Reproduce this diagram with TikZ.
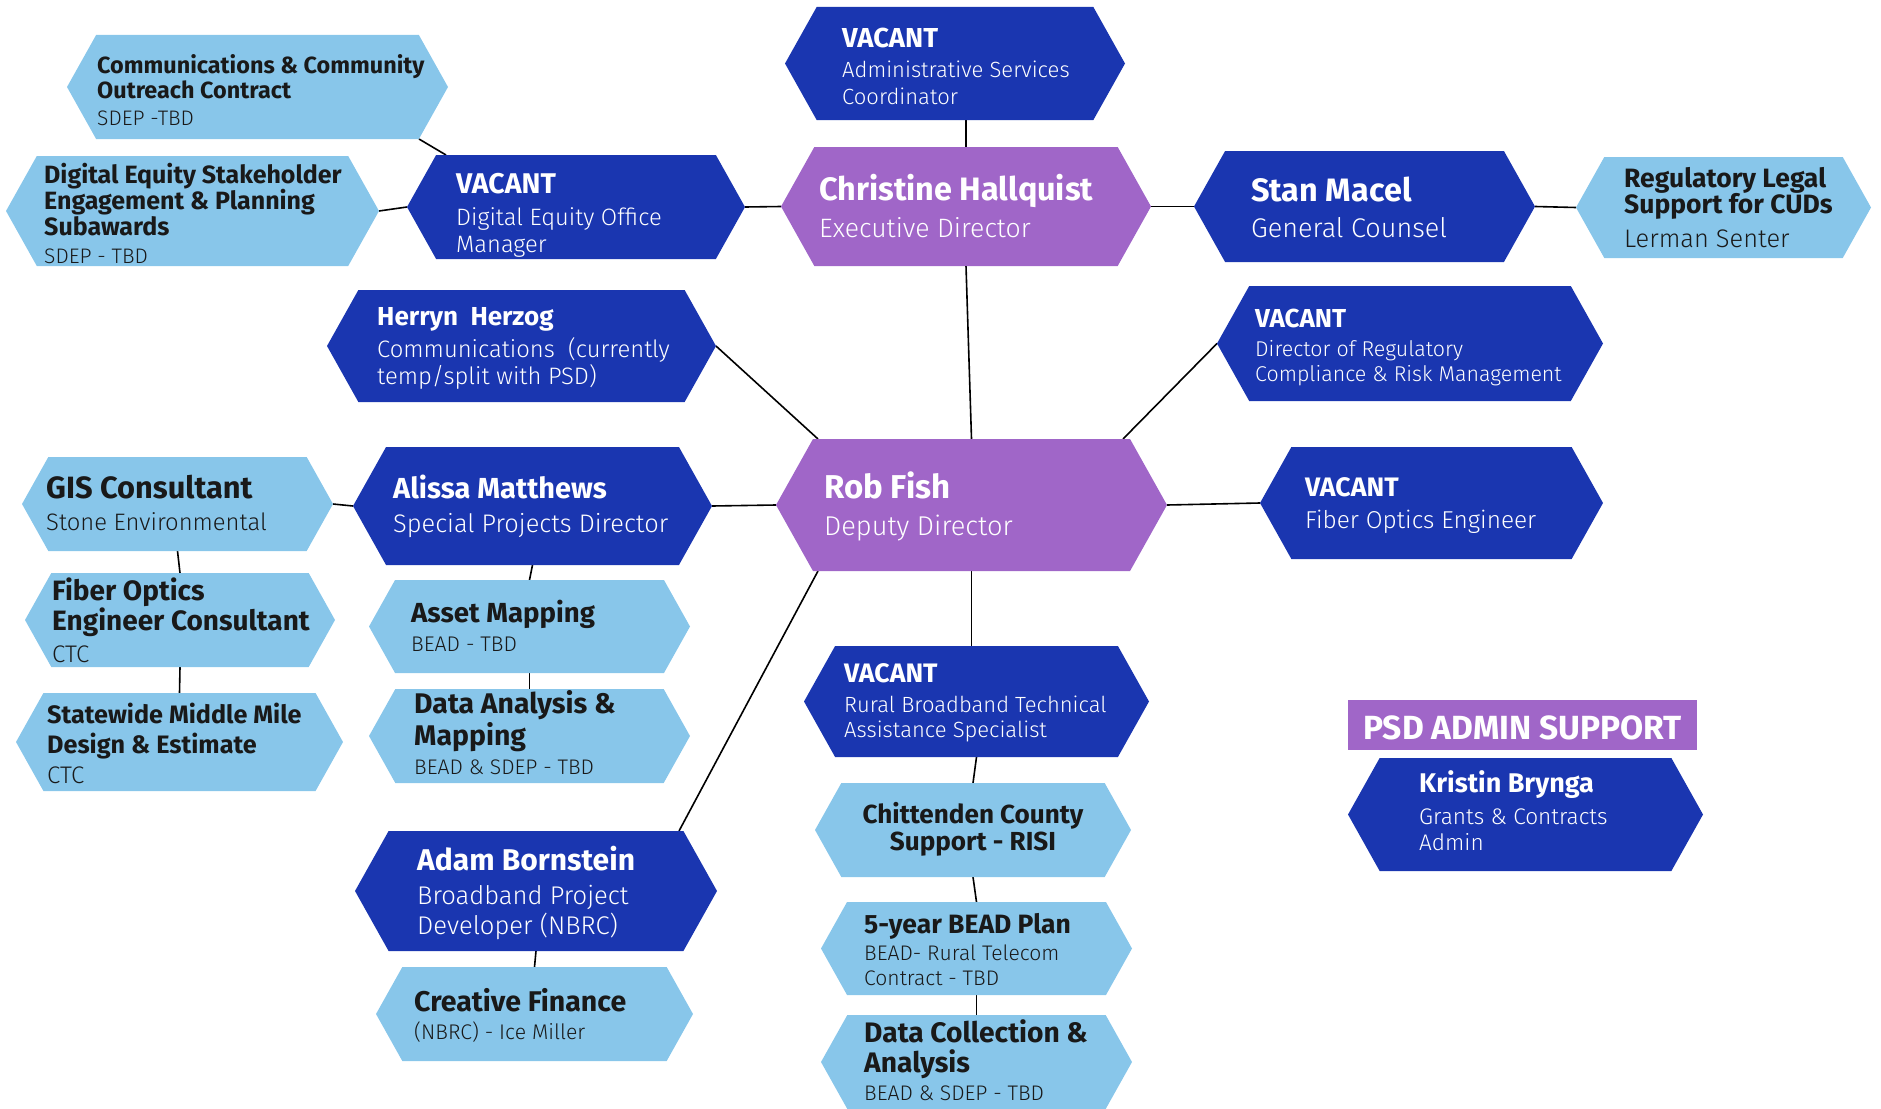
\documentclass[tikz,border=0pt]{standalone}
\usepackage{fontspec}
\setmainfont{Fira Sans}
\newfontfamily\litefont{Fira Sans Light}
\usepackage{tikz}
\usetikzlibrary{backgrounds}

\definecolor{hexnavy}{HTML}{1A36B0}
\definecolor{hexsky}{HTML}{88C6EA}
\definecolor{hexlilac}{HTML}{A066C8}

\newcommand{\ttl}[1]{\fontsize{#1}{\baselineskip}\selectfont\bfseries}
\newcommand{\subt}[1]{\litefont\fontsize{#1}{\baselineskip}\selectfont}

\tikzset{
	hexa/.style n args={3}{minimum width=#1, minimum height=#2, inner sep=0pt, outer sep=0pt,
		path picture={\fill[#3] (path picture bounding box.west)
			-- ([xshift=0.28*#2]path picture bounding box.north west)
			-- ([xshift=-0.28*#2]path picture bounding box.north east)
			-- (path picture bounding box.east)
			-- ([xshift=-0.28*#2]path picture bounding box.south east)
			-- ([xshift=0.28*#2]path picture bounding box.south west) -- cycle;}},
	txtw/.style={anchor=base west, align=left, inner sep=0pt, text=white, font=\fontsize{20}{#1}\selectfont},
	txtk/.style={txtw=#1, text=black!90},
	wire/.style={line width=1.6pt, black}
}

\begin{document}
\begin{tikzpicture}[x=1pt, y=-1pt]
	\useasboundingbox (0,0) rectangle (1881,1108);

	\node[hexa={381}{104}{hexsky}] (comms) at (257.5,87) {};
	\node[txtk=25] (comms-t) at (97,125) {\ttl{23.4}Communications \& Community\\ \ttl{23.4}Outreach Contract\\[2pt] \subt{21}SDEP -TBD};

	\node[hexa={338}{104}{hexnavy}] (deo) at (576,207) {};
	\node[txtw=27] (deo-t) at (456,252) {\ttl{28.5}VACANT\\[5pt] \subt{23.7}Digital Equity Office\\ \subt{23.7}Manager};

	\node[hexa={373}{110}{hexsky}] (dse) at (192.5,211) {};
	\node[txtk=26] (dse-t) at (44,263) {\ttl{25}Digital Equity Stakeholder\\ \ttl{25}Engagement \& Planning\\ \ttl{25}Subawards\\[2pt] \subt{21}SDEP - TBD};

	\node[hexa={340}{113}{hexnavy}] (admin) at (955,63.5) {};
	\node[txtw=27] (admin-t) at (842,104) {\ttl{27.4}VACANT\\[3pt] \subt{22}Administrative Services\\ \subt{22}Coordinator};

	\node[hexa={370}{119}{hexlilac}] (christine) at (966,206.5) {};
	\node[txtw=37] (christine-t) at (819,237) {\ttl{32.4}Christine Hallquist\\ \subt{26.6}Executive Director};

	\node[hexa={341}{111}{hexnavy}] (stan) at (1364.5,206.5) {};
	\node[txtw=36] (stan-t) at (1251,237) {\ttl{32.4}Stan Macel\\ \subt{27}General Counsel};

	\node[hexa={295}{101}{hexsky}] (reglegal) at (1723.5,207.5) {};
	\node[txtk=26] (reglegal-t) at (1624,247) {\ttl{26.5}Regulatory Legal\\ \ttl{26.5}Support for CUDs\\[8pt] \subt{25.4}Lerman Senter};

	\node[hexa={389}{112}{hexnavy}] (herryn) at (521.5,346) {};
	\node[txtw=27] (herryn-t) at (377,384) {\ttl{26}Herryn~~Herzog\\[5pt] \subt{23.8}Communications~~(currently\\ \subt{23.8}temp/split with PSD)};

	\node[hexa={359}{118}{hexnavy}] (alissa) at (532.5,506) {};
	\node[txtw=34] (alissa-t) at (393,532) {\ttl{29}Alissa Matthews\\ \subt{25.4}Special Projects Director};

	\node[hexa={311}{94}{hexsky}] (gis) at (177.5,504) {};
	\node[txtk=32] (gis-t) at (46,530) {\ttl{30.8}GIS Consultant\\ \subt{23.8}Stone Environmental};

	\node[hexa={310}{94}{hexsky}] (foc) at (180,620) {};
	\node[txtk=28] (foc-t) at (52,662) {\ttl{28}Fiber Optics\\ \ttl{28}Engineer Consultant\\[4pt] \subt{24}CTC};

	\node[hexa={327}{98}{hexsky}] (statewide) at (179.5,742) {};
	\node[txtk=30] (statewide-t) at (47,783) {\ttl{25.2}Statewide Middle Mile\\ \ttl{25.2}Design \& Estimate\\ \subt{24}CTC};

	\node[hexa={321}{93}{hexsky}] (asset) at (529.5,626.5) {};
	\node[txtk=29] (asset-t) at (411,651) {\ttl{27.6}Asset Mapping\\ \subt{21.2}BEAD - TBD};

	\node[hexa={321}{94}{hexsky}] (dataan) at (529.5,736) {};
	\node[txtk=29] (dataan-t) at (414,774) {\ttl{28.4}Data Analysis \&\\[1pt] \ttl{28.4}Mapping\\ \subt{21.1}BEAD \& SDEP - TBD};

	\node[hexa={391}{132}{hexlilac}] (rob) at (971.5,505) {};
	\node[txtw=37] (rob-t) at (824,535) {\ttl{33}Rob Fish\\ \subt{27.2}Deputy Director};

	\node[hexa={386}{115}{hexnavy}] (drc) at (1410,343.5) {};
	\node[txtw=25] (drc-t) at (1255,381) {\ttl{26}VACANT\\[4pt] \subt{21.4}Director of Regulatory\\ \subt{21.4}Compliance \& Risk Management};

	\node[hexa={343}{112}{hexnavy}] (vfiber) at (1431.5,503) {};
	\node[txtw=32] (vfiber-t) at (1305,528) {\ttl{26.7}VACANT\\ \subt{24.4}Fiber Optics Engineer};

	\node[hexa={345}{111}{hexnavy}] (rural) at (976.5,701.5) {};
	\node[txtw=25] (rural-t) at (844,737) {\ttl{26.7}VACANT\\[5pt] \subt{22}Rural Broadband Technical\\ \subt{22}Assistance Specialist};

	\node[fill=hexlilac, minimum width=349, minimum height=50, inner sep=0pt, text=white, text height=28, text depth=0, font=\ttl{33.5}] (psd) at (1522.5,725) {PSD ADMIN SUPPORT};

	\node[hexa={355}{113}{hexnavy}] (kristin) at (1525.5,814.5) {};
	\node[txtw=26] (kristin-t) at (1419,850) {\ttl{27}Kristin Brynga\\[6pt] \subt{22.6}Grants \& Contracts\\ \subt{22.6}Admin};

	\node[hexa={316}{94}{hexsky}] (chitt) at (973,830) {};
	\node[txtk=27, anchor=base, align=center] (chitt-t) at (973,850) {\ttl{26.1}Chittenden County\\ \ttl{26.1}Support - RISI};

	\node[hexa={311}{93}{hexsky}] (fiveyr) at (976.5,948.5) {};
	\node[txtk=25] (fiveyr-t) at (864,985) {\ttl{26.5}5-year BEAD Plan\\[2pt] \subt{21.1}BEAD- Rural Telecom\\ \subt{21.1}Contract - TBD};

	\node[hexa={311}{94}{hexsky}] (datacoll) at (976.5,1062) {};
	\node[txtk=28] (datacoll-t) at (864,1100) {\ttl{28.2}Data Collection \&\\[2pt] \ttl{28.2}Analysis\\ \subt{21.1}BEAD \& SDEP - TBD};

	\node[hexa={362}{120}{hexnavy}] (adam) at (536,891) {};
	\node[txtw=30] (adam-t) at (417,934) {\ttl{30}Adam Bornstein\\[4pt] \subt{25.6}Broadband Project\\ \subt{25.6}Developer (NBRC)};

	\node[hexa={317}{94}{hexsky}] (creative) at (534.5,1014) {};
	\node[txtk=28] (creative-t) at (414,1039) {\ttl{28.5}Creative Finance\\ \subt{21.2}(NBRC) - Ice Miller};

	\begin{scope}[on background layer]
		\draw[wire] ([xshift=-29]comms.south east) -- ([xshift=39]deo.north west);
		\draw[wire] (dse.east) -- (deo.west);
		\draw[wire] (deo.east) -- (christine.west);
		\draw[wire] (christine.north |- admin.south) -- (christine.north);
		\draw[wire] (christine.east) -- (stan.west);
		\draw[wire] (stan.east) -- (reglegal.west);
		\draw[wire] (christine.south) -- (rob.north);
		\draw[wire] ([xshift=42]rob.north west) -- (herryn.east);
		\draw[wire] ([xshift=-44]rob.north east) -- (drc.west);
		\draw[wire] (alissa.east) -- (rob.west);
		\draw[wire] (rob.east) -- (vfiber.west);
		\draw[wire] ([xshift=42]rob.south west) -- ([xshift=-38]adam.north east);
		\draw[wire] (gis.east) -- (alissa.west);
		\draw[wire] (rob.south) -- (rob.south |- rural.north);
		\foreach \a/\b in {alissa/asset, asset/dataan, gis/foc, foc/statewide, rural/chitt, chitt/fiveyr, fiveyr/datacoll, adam/creative}
			\draw[wire] (\a.south) -- (\b.north);
	\end{scope}
\end{tikzpicture}
\end{document}
